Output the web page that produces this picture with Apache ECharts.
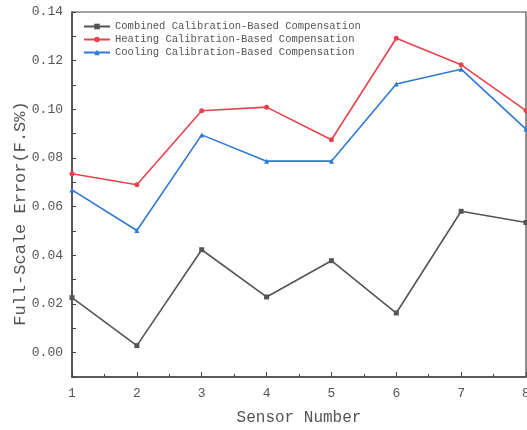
<!DOCTYPE html>
<html>
<head>
<meta charset="utf-8">
<script src="https://cdn.jsdelivr.net/npm/echarts@6/dist/echarts.min.js"></script>
<style>
  html, body { margin: 0; padding: 0; background: #fff; }
  #chart { width: 527px; height: 430px; }
</style>
</head>
<body>
<div id="chart"></div>
<script>
var sensors = [1, 2, 3, 4, 5, 6, 7, 8];
var combined = [0.0226, 0.0029, 0.0423, 0.0229, 0.0378, 0.0163, 0.0581, 0.0535];
var heating  = [0.0735, 0.0690, 0.0994, 0.1009, 0.0875, 0.1292, 0.1183, 0.0995];
var cooling  = [0.0669, 0.0502, 0.0895, 0.0787, 0.0787, 0.1104, 0.1165, 0.0919];
var names = ['Combined Calibration-Based Compensation',
             'Heating Calibration-Based Compensation',
             'Cooling Calibration-Based Compensation'];

var font = 'Liberation Mono';

function pairs(arr) {
  var out = [];
  for (var i = 0; i < sensors.length; i++) out.push([sensors[i], arr[i]]);
  return out;
}

function line(name, data, color, symbol) {
  return {
    name: name,
    type: 'line',
    data: pairs(data),
    symbol: symbol,
    symbolSize: 5,
    lineStyle: { color: color, width: 1.6 },
    itemStyle: { color: color },
    z: 3
  };
}

var chart = echarts.init(document.getElementById('chart'));
chart.setOption({
  animation: false,
  backgroundColor: '#fff',
  grid: {
    left: 72, right: 1, top: 12, bottom: 53,
    outerBoundsMode: 'none', containLabel: false,
    show: true, borderColor: '#444', borderWidth: 1.2
  },
  legend: {
    left: 78, top: 16, orient: 'vertical', itemGap: 2,
    itemWidth: 26, itemHeight: 7,
    textStyle: { fontFamily: font, fontSize: 10.5, color: '#555' },
    data: names
  },
  xAxis: {
    type: 'value', min: 1, max: 8, interval: 1,
    name: 'Sensor Number', nameLocation: 'middle', nameGap: 33,
    nameMoveOverlap: false,
    nameTextStyle: { fontFamily: font, fontSize: 16, color: '#555' },
    axisLine: { onZero: false, lineStyle: { color: '#444', width: 1.5 } },
    axisTick: { inside: true, length: 5, lineStyle: { color: '#444' } },
    minorTick: { show: true, splitNumber: 2, length: 3, lineStyle: { color: '#444' } },
    axisLabel: { fontFamily: font, fontSize: 13, color: '#555', margin: 10 },
    splitLine: { show: false }
  },
  yAxis: {
    type: 'value', min: -0.01, max: 0.14, interval: 0.01,
    name: 'Full-Scale Error(F.S%)', nameLocation: 'middle', nameGap: 43,
    nameMoveOverlap: false,
    nameTextStyle: { fontFamily: font, fontSize: 17, color: '#555', padding: [0, 38, 0, 0] },
    axisLine: { onZero: false, lineStyle: { color: '#444', width: 1.5 } },
    axisTick: { inside: true, length: 4, lineStyle: { color: '#444' } },
    axisLabel: {
      fontFamily: font, fontSize: 13, color: '#555', margin: 9,
      formatter: function (v) {
        var k = Math.round(v * 100);
        if (k < 0 || k % 2 !== 0) return '';
        return (k / 100).toFixed(2);
      }
    },
    splitLine: { show: false }
  },
  series: [
    line(names[0], combined, '#555555', 'rect'),
    line(names[1], heating, '#e8434d', 'circle'),
    line(names[2], cooling, '#2f78d4', 'triangle')
  ]
});
</script>
</body>
</html>
